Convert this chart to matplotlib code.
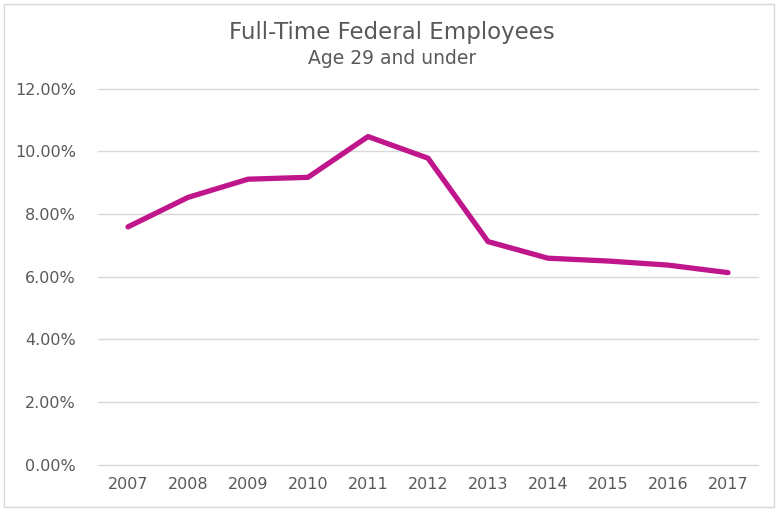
import matplotlib
matplotlib.use("Agg")
import matplotlib.pyplot as plt
from matplotlib.patches import Rectangle
from matplotlib.ticker import FuncFormatter, MultipleLocator

years = ["2007", "2008", "2009", "2010", "2011", "2012", "2013", "2014", "2015", "2016", "2017"]
share = [7.59, 8.53, 9.11, 9.17, 10.47, 9.78, 7.12, 6.59, 6.50, 6.37, 6.13]
title = "Full-Time Federal Employees"
subtitle = "Age 29 and under"

plt.rcParams['font.family'] = ['DejaVu Sans']

fig = plt.figure(figsize=(7.84, 5.14), dpi=100)
fig.patch.set_facecolor("white")
fig.patches.append(Rectangle((4/784, 1-507/514), 770/784, 503/514, transform=fig.transFigure,
                             fill=False, edgecolor="#d9d9d9", linewidth=1.0))

ax = fig.add_axes([98/784, (514-464.8)/514, 660/784, (464.8-88.6)/514])
x = list(range(len(years)))
ax.plot(x, share, color="#c0168c", linewidth=3.8, solid_joinstyle="round", solid_capstyle="round", zorder=3)
ax.set_xlim(-0.5, len(years) - 0.5)
ax.set_ylim(0, 12)
ax.yaxis.set_major_locator(MultipleLocator(2))
ax.yaxis.set_major_formatter(FuncFormatter(lambda v, p: f"{v:.2f}%"))
ax.set_xticks(x)
ax.set_xticklabels(years)
ax.grid(axis="y", color="#d9d9d9", linewidth=1.0, zorder=0)
for gl in ax.get_ygridlines():
    gl.set_clip_on(False)
for s in ax.spines.values():
    s.set_visible(False)
ax.tick_params(axis="both", length=0, colors="#595959", labelsize=11.5)
ax.tick_params(axis="y", pad=16)
ax.tick_params(axis="x", pad=9)

fig.text(0.5, 1-32/514, title, ha="center", va="center", fontsize=16.5, color="#595959")
fig.text(0.5, 1-58/514, subtitle, ha="center", va="center", fontsize=13.5, color="#595959")

fig.savefig("out.png", dpi=100)
